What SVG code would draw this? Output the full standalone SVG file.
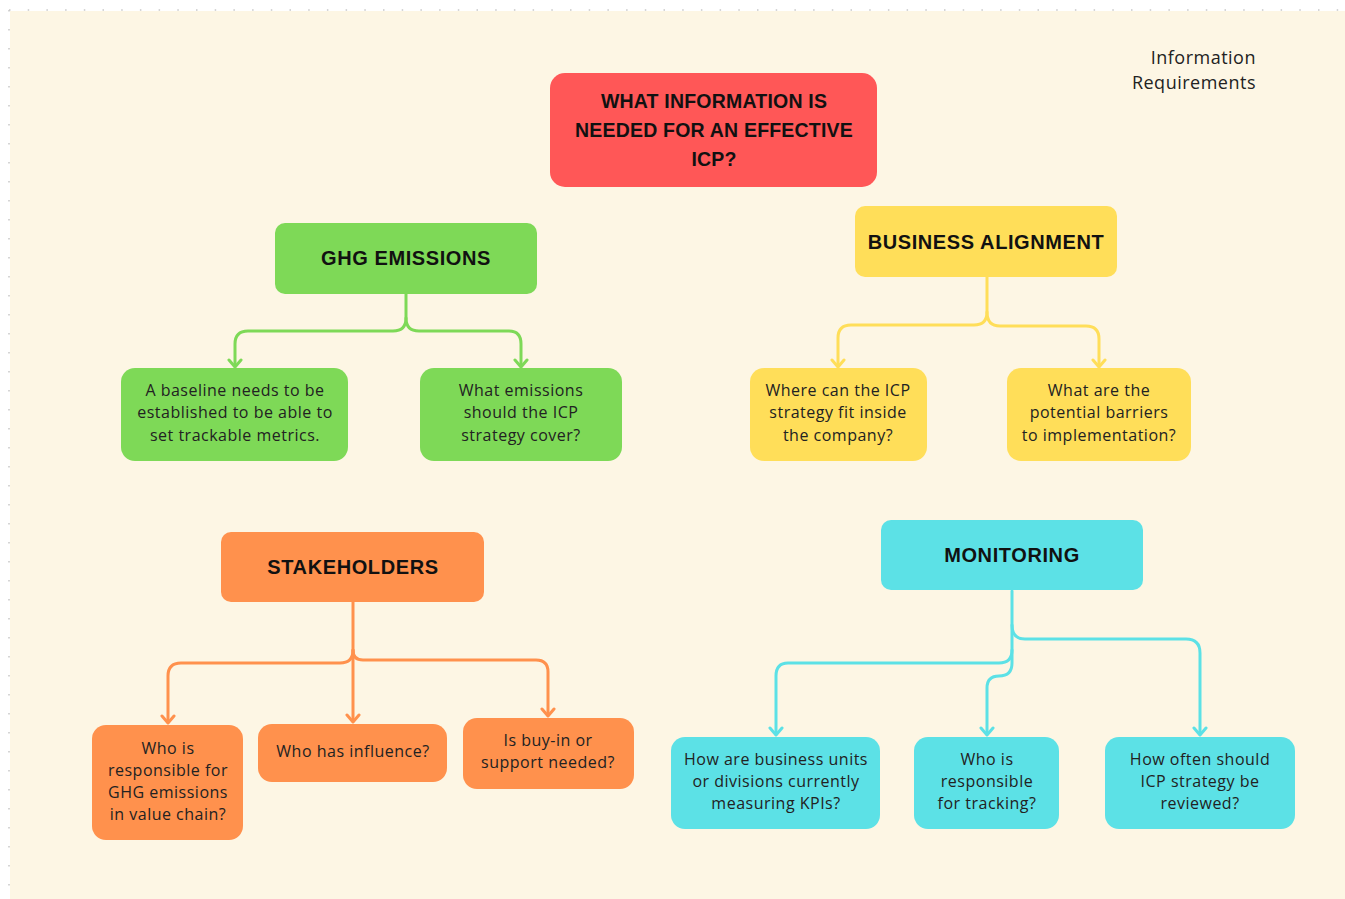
<svg xmlns="http://www.w3.org/2000/svg" width="1345" height="899" viewBox="0 0 1345 899">
<style>
.hd{font-family:"Liberation Sans",Arial,sans-serif;font-weight:bold;font-size:20px;letter-spacing:0.6px;fill:#111;text-anchor:middle}
.tt{font-family:"Liberation Sans",Arial,sans-serif;font-weight:bold;font-size:19.5px;letter-spacing:0.2px;fill:#111;text-anchor:middle}
.bd{font-family:"Open Sans","Liberation Sans",sans-serif;font-size:16px;letter-spacing:0.5px;fill:#222;text-anchor:middle}
.note{font-family:"Open Sans","Liberation Sans",sans-serif;font-size:18px;letter-spacing:0.5px;fill:#222;text-anchor:end}
.c{fill:none;stroke-width:3;stroke-linecap:round;stroke-linejoin:round}
.g{stroke:#7ED957}.y{stroke:#FFDE59}.o{stroke:#FF914D}.b{stroke:#5CE1E6}
</style>
<rect x="0" y="0" width="1345" height="899" fill="#ffffff"/>
<rect x="10" y="11" width="1335" height="888" fill="#FDF6E4"/>
<line x1="9" y1="10" x2="1345" y2="10" stroke="#c8c8c8" stroke-width="1.5" stroke-dasharray="1.5 17.2"/>
<line x1="9" y1="10" x2="9" y2="899" stroke="#c8c8c8" stroke-width="1.5" stroke-dasharray="1.5 17.5"/>

<g id="connectors">
<g class="c g">
<path d="M406,294 V318 Q406,331 393,331 H248 Q235,331 235,344 V366"/>
<path d="M406,318 Q406,331 419,331 H509 Q521,331 521,344 V366"/>
<path d="M229,360 L235,367 L241,360 M515,360 L521,367 L527,360"/>
</g>
<g class="c y">
<path d="M987,277 V312 Q987,325 974,325 H851 Q838,325 838,338 V366"/>
<path d="M987,312 Q987,326 1000,326 H1086 Q1099,326 1099,339 V366"/>
<path d="M832,360 L838,367 L844,360 M1093,360 L1099,367 L1105,360"/>
</g>
<g class="c o">
<path d="M353,602 V721"/>
<path d="M353,650 Q353,663 340,663 H181 Q168,663 168,676 V722"/>
<path d="M353,650 Q353,660 363,660 H536 Q548,660 548,672 V715"/>
<path d="M162,716 L168,723 L174,716 M347,715 L353,722 L359,715 M542,709 L548,716 L554,709"/>
</g>
<g class="c b">
<path d="M1012,591 V663 Q1012,676 999,676 Q987,676 987,688 V734"/>
<path d="M1012,650 Q1012,663 999,663 H788 Q776,663 776,676 V734"/>
<path d="M1012,625 Q1012,639 1025,639 H1186 Q1200,639 1200,653 V734"/>
<path d="M770,728 L776,735 L782,728 M981,728 L987,735 L993,728 M1194,728 L1200,735 L1206,728"/>
</g>
</g>

<g id="title">
<rect x="550" y="73" width="327" height="114" rx="15" fill="#FF5757"/>
<text class="tt" x="714" y="108">WHAT INFORMATION IS</text>
<text class="tt" x="714" y="137">NEEDED FOR AN EFFECTIVE</text>
<text class="tt" x="714" y="166">ICP?</text>
</g>

<g id="note">
<text class="note" x="1256" y="64">Information</text>
<text class="note" x="1256" y="89">Requirements</text>
</g>

<g id="ghg">
<rect x="275" y="223" width="262" height="71" rx="10" fill="#7ED957"/>
<text class="hd" x="406" y="265">GHG EMISSIONS</text>
</g>
<g id="business">
<rect x="855" y="206" width="262" height="71" rx="10" fill="#FFDE59"/>
<text class="hd" x="986" y="249">BUSINESS ALIGNMENT</text>
</g>
<g id="stakeholders">
<rect x="221" y="532" width="263" height="70" rx="10" fill="#FF914D"/>
<text class="hd" x="353" y="574">STAKEHOLDERS</text>
</g>
<g id="monitoring">
<rect x="881" y="520" width="262" height="70" rx="10" fill="#5CE1E6"/>
<text class="hd" x="1012" y="562">MONITORING</text>
</g>

<g id="g1">
<rect x="121" y="368" width="227" height="93" rx="14" fill="#7ED957"/>
<text class="bd" x="235" y="396">A baseline needs to be</text>
<text class="bd" x="235" y="418">established to be able to</text>
<text class="bd" x="235" y="441">set trackable metrics.</text>
</g>
<g id="g2">
<rect x="420" y="368" width="202" height="93" rx="14" fill="#7ED957"/>
<text class="bd" x="521" y="396">What emissions</text>
<text class="bd" x="521" y="418">should the ICP</text>
<text class="bd" x="521" y="441">strategy cover?</text>
</g>
<g id="y1">
<rect x="750" y="368" width="177" height="93" rx="14" fill="#FFDE59"/>
<text class="bd" x="838" y="396">Where can the ICP</text>
<text class="bd" x="838" y="418">strategy fit inside</text>
<text class="bd" x="838" y="441">the company?</text>
</g>
<g id="y2">
<rect x="1007" y="368" width="184" height="93" rx="14" fill="#FFDE59"/>
<text class="bd" x="1099" y="396">What are the</text>
<text class="bd" x="1099" y="418">potential barriers</text>
<text class="bd" x="1099" y="441">to implementation?</text>
</g>
<g id="o1">
<rect x="92" y="725" width="151" height="115" rx="14" fill="#FF914D"/>
<text class="bd" x="168" y="754">Who is</text>
<text class="bd" x="168" y="776">responsible for</text>
<text class="bd" x="168" y="798">GHG emissions</text>
<text class="bd" x="168" y="820">in value chain?</text>
</g>
<g id="o2">
<rect x="258" y="724" width="189" height="58" rx="14" fill="#FF914D"/>
<text class="bd" x="353" y="757">Who has influence?</text>
</g>
<g id="o3">
<rect x="463" y="718" width="171" height="71" rx="14" fill="#FF914D"/>
<text class="bd" x="548" y="746">Is buy-in or</text>
<text class="bd" x="548" y="768">support needed?</text>
</g>
<g id="b1">
<rect x="671" y="737" width="209" height="92" rx="14" fill="#5CE1E6"/>
<text class="bd" x="776" y="765">How are business units</text>
<text class="bd" x="776" y="787">or divisions currently</text>
<text class="bd" x="776" y="809">measuring KPIs?</text>
</g>
<g id="b2">
<rect x="914" y="737" width="145" height="92" rx="14" fill="#5CE1E6"/>
<text class="bd" x="987" y="765">Who is</text>
<text class="bd" x="987" y="787">responsible</text>
<text class="bd" x="987" y="809">for tracking?</text>
</g>
<g id="b3">
<rect x="1105" y="737" width="190" height="92" rx="14" fill="#5CE1E6"/>
<text class="bd" x="1200" y="765">How often should</text>
<text class="bd" x="1200" y="787">ICP strategy be</text>
<text class="bd" x="1200" y="809">reviewed?</text>
</g>
</svg>
